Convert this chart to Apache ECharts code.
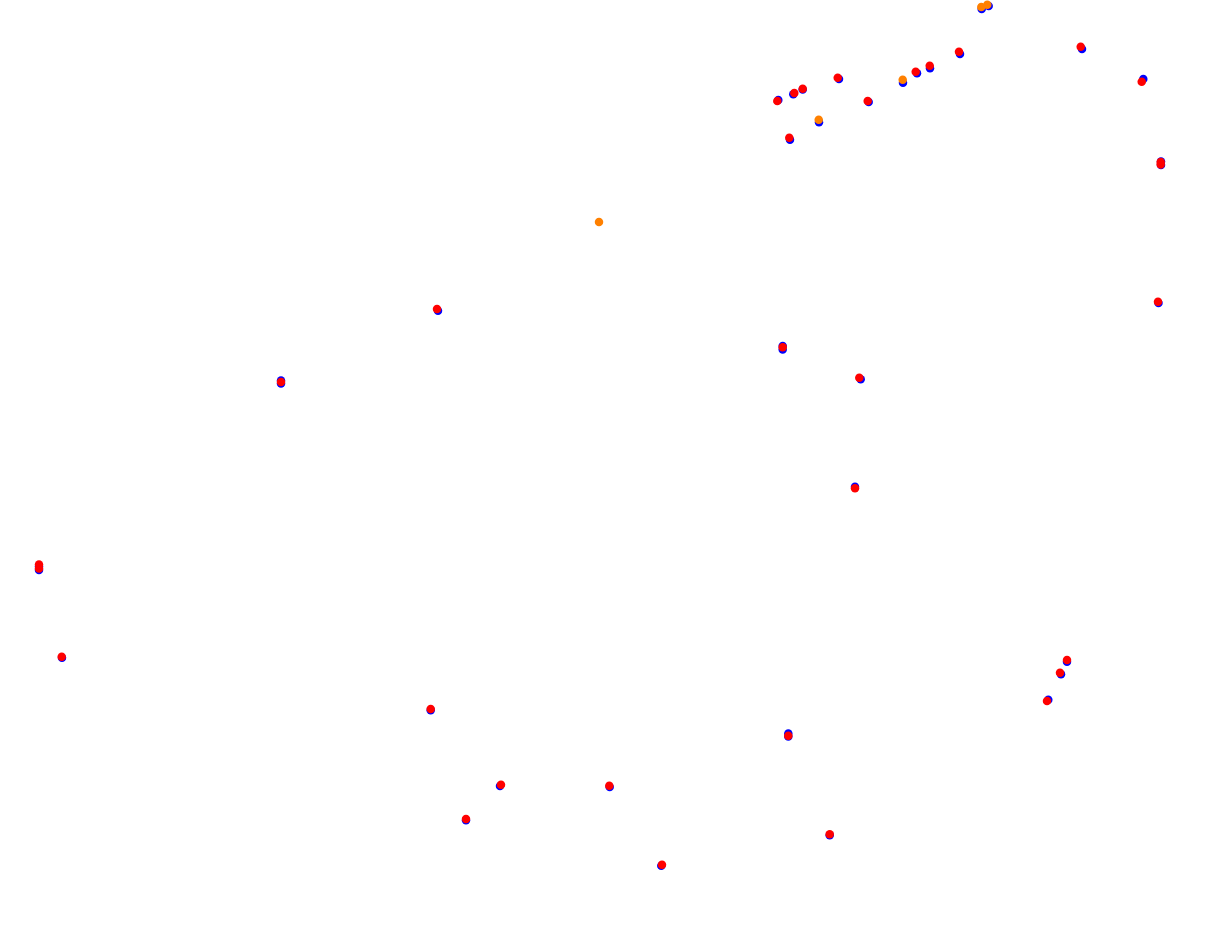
<!DOCTYPE html>
<html>
<head>
<meta charset="utf-8">
<script src="https://cdn.jsdelivr.net/npm/echarts@6/dist/echarts.min.js"></script>
<style>html,body{margin:0;padding:0;background:#fff}#c{width:1212px;height:939px}</style>
</head>
<body>
<div id="c"></div>
<script>
// Blue series points [x, y]
const bluePoints = [
  [778.3,100],[793.3,94.3],[802.7,89.5],[839,79],[868.7,102],[819,122.3],[790,139.7],
  [903,82.7],[917,73.3],[930,68.3],[960,54],[981.7,9],[988.7,6],[1082,49],[1143.3,79],
  [1161,161.5],[1161,165],[1158.5,303],[438,310.7],[281,380.5],[281,383.5],
  [782.7,346],[782.7,349.5],[860.7,379.3],[855,486.7],[39,566.5],[39,570],[62,657.7],
  [1067,661.7],[1061,674.3],[1048.3,699.7],[430.7,710.3],[788.3,733.5],[788.3,736.5],
  [500,786],[609.7,787],[466,820.3],[829.7,835.3],[661.3,865.7]
];
// Red series points [x, y]
const redPoints = [
  [777.3,101],[794.3,93],[802.7,88.7],[837.7,77.7],[867.7,101],[789.3,137.7],
  [915.7,71.7],[929.7,65.7],[959,51.7],[1080.7,46.7],[1141.7,81.7],
  [1160.7,162],[1160.7,164.5],[1158,301.7],[437,309],[281,382],[782.7,347.3],
  [859.3,377.7],[855,488.3],[39,564.5],[39,568.5],[61.7,656.7],[1067,660],
  [1060,672.7],[1047,701],[430.7,709],[788.3,735.7],[501,784.7],[609.3,785.7],
  [466,819],[829.7,834.3],[662,864.7]
];
// Orange series points [x, y]
const orangePoints = [
  [818.7,119.7],[902.7,79.7],[981.3,7],[987.3,4.7],[599,222]
];
const xRange = [0, 1212];
const yRange = [0, 939];

const chart = echarts.init(document.getElementById('c'), null, {renderer:'canvas'});
const hiddenAxis = {show:false, splitLine:{show:false}, axisLine:{show:false}, axisTick:{show:false}, axisLabel:{show:false}};
chart.setOption({
  animation:false,
  backgroundColor:'#ffffff',
  grid:{left:0,right:0,top:0,bottom:0,containLabel:false},
  xAxis:Object.assign({type:'value', min:xRange[0], max:xRange[1]}, hiddenAxis),
  yAxis:Object.assign({type:'value', min:yRange[0], max:yRange[1], inverse:true}, hiddenAxis),
  series:[
    {type:'scatter', name:'blue', data:bluePoints, symbolSize:8.5, itemStyle:{color:'#0000ff', opacity:1}},
    {type:'scatter', name:'red', data:redPoints, symbolSize:8.5, itemStyle:{color:'#ff0000', opacity:1}},
    {type:'scatter', name:'orange', data:orangePoints, symbolSize:8.5, itemStyle:{color:'#ff8000', opacity:1}}
  ]
});
</script>
</body>
</html>
